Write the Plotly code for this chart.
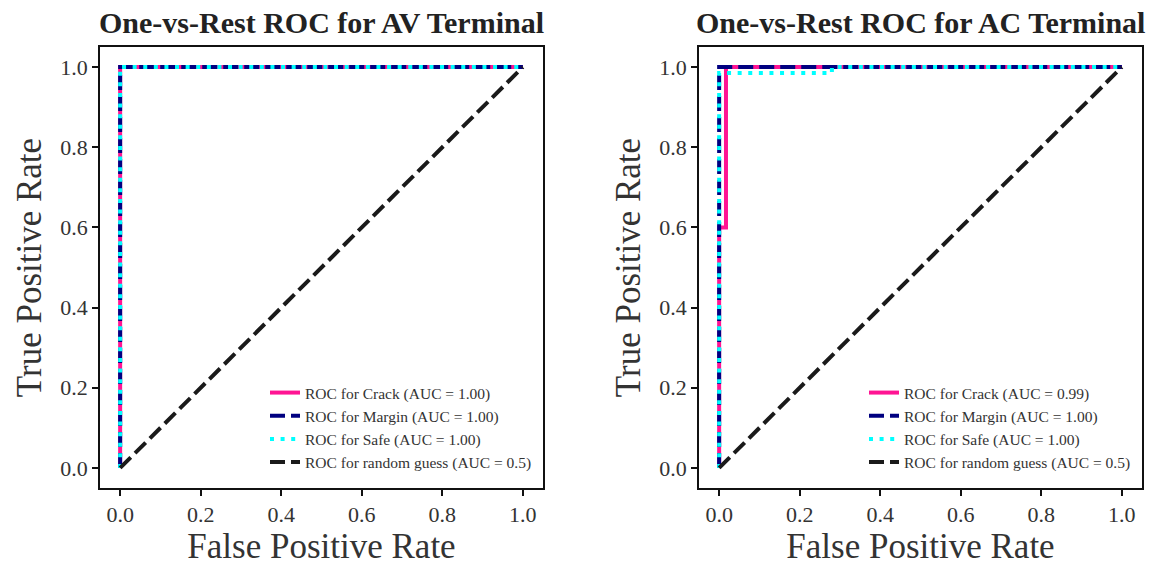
import plotly.graph_objects as go

# ---- data ----
# AV terminal (left)
av_crack_fpr = [0.0, 0.0, 1.0]
av_crack_tpr = [0.0, 1.0, 1.0]
av_margin_fpr = [0.0, 0.0, 1.0]
av_margin_tpr = [0.0, 1.0, 1.0]
av_safe_fpr = [0.0, 0.0, 1.0]
av_safe_tpr = [0.0, 1.0, 1.0]
av_labels = ["ROC for Crack (AUC = 1.00)", "ROC for Margin (AUC = 1.00)",
             "ROC for Safe (AUC = 1.00)", "ROC for random guess (AUC = 0.5)"]

# AC terminal (right)
ac_crack_fpr = [0.0, 0.0, 0.017, 0.017, 1.0]
ac_crack_tpr = [0.0, 0.6, 0.6, 1.0, 1.0]
ac_margin_fpr = [0.0, 0.0, 1.0]
ac_margin_tpr = [0.0, 1.0, 1.0]
ac_safe_fpr = [0.0, 0.0, 0.28, 0.28, 1.0]
ac_safe_tpr = [0.0, 0.985, 0.985, 1.0, 1.0]
ac_labels = ["ROC for Crack (AUC = 0.99)", "ROC for Margin (AUC = 1.00)",
             "ROC for Safe (AUC = 1.00)", "ROC for random guess (AUC = 0.5)"]

rand_fpr = [0.0, 1.0]
rand_tpr = [0.0, 1.0]

titles = ["One-vs-Rest ROC for AV Terminal", "One-vs-Rest ROC for AC Terminal"]
tick_vals = [0.0, 0.2, 0.4, 0.6, 0.8, 1.0]
tick_text = ["0.0", "0.2", "0.4", "0.6", "0.8", "1.0"]

FONT = "Liberation Serif"
W, H = 1151, 569

styles = [
    dict(color="#FF1493", width=4, dash="solid"),
    dict(color="#000080", width=4, dash="15px,6px"),
    dict(color="#00FFFF", width=4, dash="4px,6.6px"),
    dict(color="#1a1a1a", width=4, dash="15px,6px"),
]

fig = go.Figure()

panels = [
    ("x", "y", "legend",
     [(av_crack_fpr, av_crack_tpr), (av_margin_fpr, av_margin_tpr),
      (av_safe_fpr, av_safe_tpr), (rand_fpr, rand_tpr)], av_labels),
    ("x2", "y2", "legend2",
     [(ac_crack_fpr, ac_crack_tpr), (ac_margin_fpr, ac_margin_tpr),
      (ac_safe_fpr, ac_safe_tpr), (rand_fpr, rand_tpr)], ac_labels),
]
for xa, ya, lg, series, labels in panels:
    for (fx, ty), lab, st in zip(series, labels, styles):
        fig.add_trace(go.Scatter(x=fx, y=ty, mode="lines", name=lab,
                                 line=st, xaxis=xa, yaxis=ya, legend=lg))

# pixel-based domains
def xd(a, b):
    return [a / W, b / W]

def yd(top, bottom):
    return [(H - bottom) / H, (H - top) / H]

ax_common = dict(
    range=[-0.05, 1.05], showgrid=False, zeroline=False,
    showline=True, linecolor="#111", linewidth=1.8, mirror=True,
    ticks="outside", ticklen=6, tickwidth=1.5, tickcolor="#111",
    tickvals=tick_vals, ticktext=tick_text,
    tickfont=dict(family=FONT, size=22, color="#333"),
)
title_font = dict(family=FONT, size=35, color="#333")
leg_font = dict(family=FONT, size=15.5, color="#333")

fig.update_layout(
    width=W, height=H,
    margin=dict(l=0, r=0, t=0, b=0),
    paper_bgcolor="white", plot_bgcolor="white",
    xaxis=dict(ax_common, domain=xd(100, 543), anchor="y",
               title=dict(text="False Positive Rate", font=title_font, standoff=6)),
    yaxis=dict(ax_common, domain=yd(47, 488), anchor="x",
               title=dict(text="True Positive Rate", font=title_font, standoff=8)),
    xaxis2=dict(ax_common, domain=xd(699, 1142), anchor="y2",
                title=dict(text="False Positive Rate", font=title_font, standoff=6)),
    yaxis2=dict(ax_common, domain=yd(47, 488), anchor="x2",
                title=dict(text="True Positive Rate", font=title_font, standoff=8)),
    legend=dict(x=537 / W, y=(H - 479) / H, xanchor="right", yanchor="bottom",
                bgcolor="rgba(0,0,0,0)", font=leg_font,
                tracegroupgap=0, itemwidth=30),
    legend2=dict(x=1136 / W, y=(H - 479) / H, xanchor="right", yanchor="bottom",
                 bgcolor="rgba(0,0,0,0)", font=leg_font,
                 tracegroupgap=0, itemwidth=30),
    annotations=[
        dict(text="<b>" + titles[0] + "</b>", x=321 / W, y=(H - 22) / H, xref="paper", yref="paper",
             showarrow=False, font=dict(family=FONT, size=30, color="#222"), xanchor="center", yanchor="middle"),
        dict(text="<b>" + titles[1] + "</b>", x=920 / W, y=(H - 22) / H, xref="paper", yref="paper",
             showarrow=False, font=dict(family=FONT, size=30, color="#222"), xanchor="center", yanchor="middle"),
    ],
)

fig.write_html("out.html")
